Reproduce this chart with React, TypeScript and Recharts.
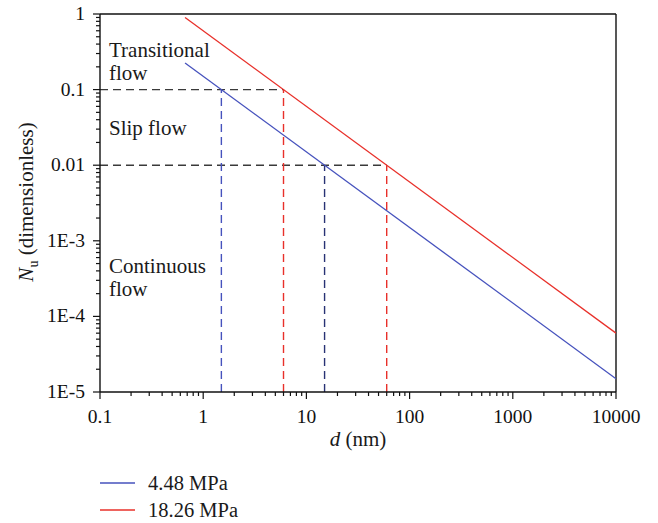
import React from "react";
import { LineChart, Line, XAxis, YAxis, ReferenceLine } from "recharts";

// tick labels
const xMajor = [0.1, 1, 10, 100, 1000, 10000];
const xLabels = ["0.1", "1", "10", "100", "1000", "10000"];
const yMajor = [1e-5, 1e-4, 1e-3, 0.01, 0.1, 1];
const yLabels = ["1E-5", "1E-4", "1E-3", "0.01", "0.1", "1"];

// N_u vs d, two pressures (straight lines on log-log)
const blue448 = [
  { d: 0.667, n: 0.225 },
  { d: 10000, n: 1.5e-5 },
];
const red1826 = [
  { d: 0.667, n: 0.9 },
  { d: 10000, n: 6e-5 },
];

// flow-regime guide lines
const guide01 = [
  { d: 0.1, n: 0.1 },
  { d: 6, n: 0.1 },
];
const guide001 = [
  { d: 0.1, n: 0.01 },
  { d: 60, n: 0.01 },
];
const vBlue01 = [
  { d: 1.5, n: 1e-5 },
  { d: 1.5, n: 0.1 },
];
const vRed01 = [
  { d: 6, n: 1e-5 },
  { d: 6, n: 0.1 },
];
const vBlue001 = [
  { d: 15, n: 1e-5 },
  { d: 15, n: 0.01 },
];
const vRed001 = [
  { d: 60, n: 1e-5 },
  { d: 60, n: 0.01 },
];

const seriesNames = ["4.48 MPa", "18.26 MPa"];
const seriesColors = ["#4652bd", "#e8302a"];

const FONT = "'Liberation Serif', 'DejaVu Serif', serif";
const TICK_FS = 19.5;

function withMinor(majors: number[]) {
  const out: number[] = [];
  majors.forEach((m, i) => {
    out.push(m);
    if (i < majors.length - 1) for (let k = 2; k <= 9; k++) out.push(m * k);
  });
  return out;
}

const xTicks = withMinor(xMajor);
const yTicks = withMinor(yMajor);

function majorIndex(arr: number[], v: number) {
  return arr.findIndex((m) => Math.abs(m - v) / m < 1e-6);
}

const XTick = (props: any) => {
  const { x, y, payload } = props;
  const i = majorIndex(xMajor, payload.value);
  const major = i >= 0;
  return (
    <g>
      <line x1={x} x2={x} y1={y} y2={y + (major ? 7 : 4)} stroke="#111" strokeWidth={1.2} />
      {major && (
        <text x={x} y={y + 31} textAnchor="middle" fontFamily={FONT} fontSize={TICK_FS} fill="#111">
          {xLabels[i]}
        </text>
      )}
    </g>
  );
};

const YTick = (props: any) => {
  const { x, y, payload } = props;
  const i = majorIndex(yMajor, payload.value);
  const major = i >= 0;
  return (
    <g>
      <line x1={x} x2={x - (major ? 7 : 4)} y1={y} y2={y} stroke="#111" strokeWidth={1.2} />
      {major && (
        <text x={x - 15} y={y + 6} textAnchor="end" fontFamily={FONT} fontSize={TICK_FS} fill="#111">
          {yLabels[i]}
        </text>
      )}
    </g>
  );
};

const textStyle = { fontFamily: FONT, fontSize: 21, fill: "#1a1a1a" };
const legendStyle = { fontFamily: FONT, fontSize: 20.5, fill: "#1a1a1a" };

export default function App() {
  const dashed = (data: any[], color: string, key: string) => (
    <Line
      key={key}
      data={data}
      dataKey="n"
      type="linear"
      stroke={color}
      strokeWidth={1.4}
      strokeDasharray="8 5"
      dot={false}
      activeDot={false}
      isAnimationActive={false}
    />
  );

  return (
    <div style={{ position: "absolute", left: 0, top: 0, width: 658, height: 523, background: "#fff" }}>
      <LineChart width={658} height={523} margin={{ top: 14, right: 42, bottom: 91, left: 40 }}>
        <XAxis
          dataKey="d"
          type="number"
          scale="log"
          domain={[0.1, 10000]}
          allowDataOverflow
          ticks={xTicks}
          interval={0}
          tick={<XTick />}
          tickLine={false}
          tickSize={0}
          tickMargin={0}
          height={40}
          axisLine={{ stroke: "#111", strokeWidth: 1.4 }}
        />
        <YAxis
          dataKey="n"
          type="number"
          scale="log"
          domain={[1e-5, 1]}
          allowDataOverflow
          ticks={yTicks}
          interval={0}
          tick={<YTick />}
          tickLine={false}
          tickSize={0}
          tickMargin={0}
          width={60}
          axisLine={{ stroke: "#111", strokeWidth: 1.4 }}
        />
        <ReferenceLine y={1} stroke="#111" strokeWidth={1.4} ifOverflow="visible" />
        <ReferenceLine x={10000} stroke="#111" strokeWidth={1.4} ifOverflow="visible" />

        {dashed(guide01, "#3a3a3a", "g1")}
        {dashed(guide001, "#3a3a3a", "g2")}
        {dashed(vBlue01, "#4652bd", "v1")}
        {dashed(vRed01, "#e8302a", "v2")}
        {dashed(vBlue001, "#283274", "v3")}
        {dashed(vRed001, "#e8302a", "v4")}

        <Line data={blue448} dataKey="n" name={seriesNames[0]} type="linear" stroke={seriesColors[0]} strokeWidth={1.3} dot={false} activeDot={false} isAnimationActive={false} />
        <Line data={red1826} dataKey="n" name={seriesNames[1]} type="linear" stroke={seriesColors[1]} strokeWidth={1.3} dot={false} activeDot={false} isAnimationActive={false} />

        <text x={109} y={57} style={textStyle}>Transitional</text>
        <text x={109} y={80} style={textStyle}>flow</text>
        <text x={109} y={135} style={textStyle}>Slip flow</text>
        <text x={109} y={273} style={textStyle}>Continuous</text>
        <text x={109} y={296} style={textStyle}>flow</text>

        <text x={358} y={446} textAnchor="middle" style={textStyle}>
          <tspan fontStyle="italic">d</tspan> (nm)
        </text>
        <text x={33} y={202} textAnchor="middle" transform="rotate(-90 33 202)" style={textStyle}>
          <tspan fontStyle="italic">N</tspan>
          <tspan fontSize={14} dy={5}>u</tspan>
          <tspan dy={-5}> (dimensionless)</tspan>
        </text>

        {seriesNames.map((name, i) => (
          <g key={name}>
            <line x1={100} x2={135} y1={483 + i * 27} y2={483 + i * 27} stroke={seriesColors[i]} strokeWidth={1.3} />
            <text x={148} y={490 + i * 27} style={legendStyle}>{name}</text>
          </g>
        ))}
      </LineChart>
    </div>
  );
}
